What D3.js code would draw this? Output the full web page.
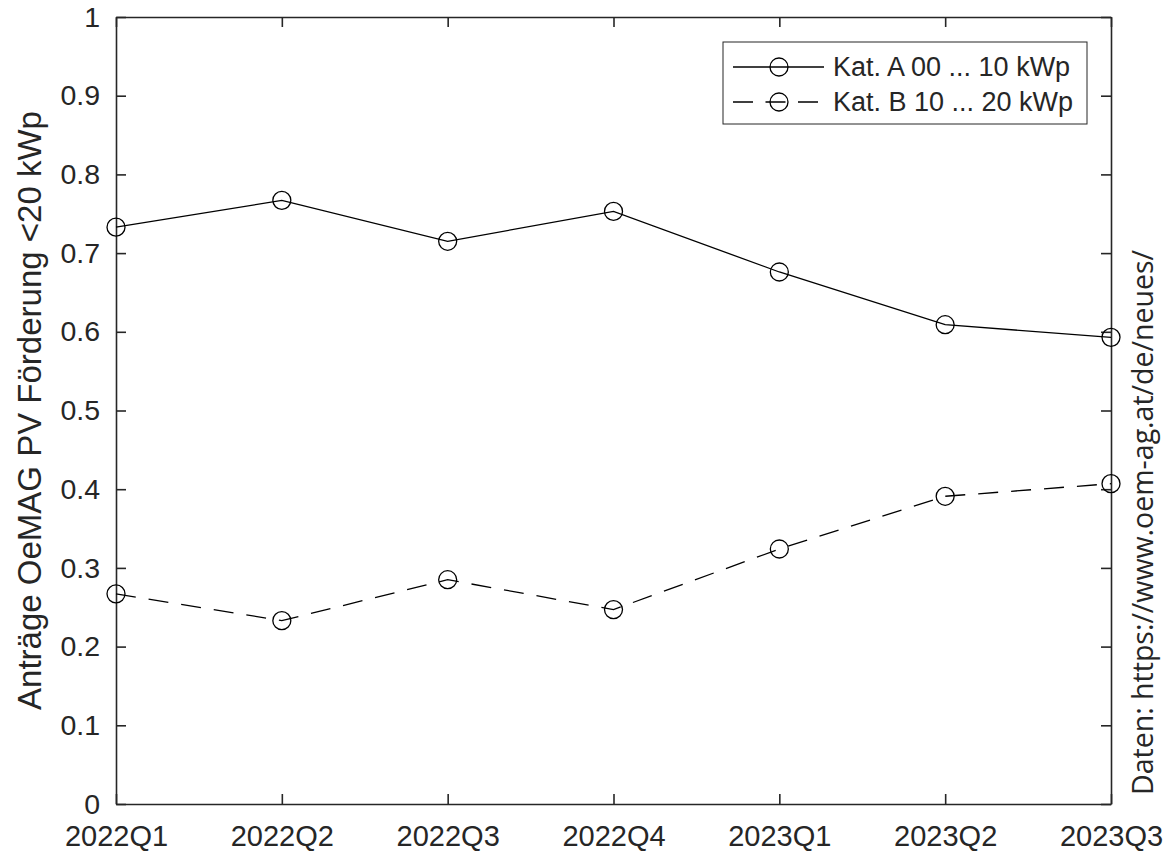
<!DOCTYPE html>
<html>
<head>
<meta charset="utf-8">
<script src="https://cdn.jsdelivr.net/npm/d3@7"></script>
<style>
  body { margin: 0; background: #fff; }
  text { font-family: "Liberation Sans", Arial, sans-serif; fill: #262626; }
</style>
</head>
<body>
<div id="chart"></div>
<script>
    const quarters = ['2022Q1', '2022Q2', '2022Q3', '2022Q4', '2023Q1', '2023Q2', '2023Q3'];
    const katA = [0.733, 0.767, 0.715, 0.753, 0.676, 0.609, 0.593];
    const katB = [0.267, 0.233, 0.285, 0.247, 0.324, 0.391, 0.407];
    const seriesNames = ['Kat. A 00 ... 10 kWp', 'Kat. B 10 ... 20 kWp'];
    const yTicks = [0, 0.1, 0.2, 0.3, 0.4, 0.5, 0.6, 0.7, 0.8, 0.9, 1];

    const width = 1168, height = 852;
    const plotL = 116, plotR = 1111, plotT = 17, plotB = 804;
    const axisColor = '#262626';

    const x = d3.scalePoint().domain(quarters).range([plotL, plotR]);
    const y = d3.scaleLinear().domain([0, 1]).range([plotB, plotT]);

    const svg = d3.select('#chart').append('svg')
      .attr('width', width)
      .attr('height', height);

    // axes, ticks pointing inward (also mirrored on top/right)
    const tickLen = 10;
    const yFmt = d => d === 0 || d === 1 ? String(d) : d3.format('.1f')(d);

    svg.append('g')
      .attr('transform', `translate(0,${plotB})`)
      .call(d3.axisBottom(x).tickSizeInner(-tickLen).tickSizeOuter(0).tickPadding(21))
      .call(g => g.selectAll('text').style('font-size', '29px').attr('fill', axisColor));

    svg.append('g')
      .attr('transform', `translate(0,${plotT})`)
      .call(d3.axisTop(x).tickSizeInner(-tickLen).tickSizeOuter(0).tickFormat(''));

    svg.append('g')
      .attr('transform', `translate(${plotL},0)`)
      .call(d3.axisLeft(y).tickValues(yTicks).tickFormat(yFmt).tickSizeInner(-tickLen).tickSizeOuter(0).tickPadding(16))
      .call(g => g.selectAll('text').style('font-size', '28.5px').attr('fill', axisColor));

    svg.append('g')
      .attr('transform', `translate(${plotR},0)`)
      .call(d3.axisRight(y).tickValues(yTicks).tickSizeInner(-tickLen).tickSizeOuter(0).tickFormat(''));

    svg.selectAll('.domain').attr('stroke', axisColor).attr('stroke-width', 1.6);
    svg.selectAll('.tick line').attr('stroke', axisColor).attr('stroke-width', 1.6);

    // lines
    const line = d3.line()
      .x((d, i) => x(quarters[i]))
      .y(d => y(d));

    const series = [
      { values: katA, dash: null },
      { values: katB, dash: '20,13' }
    ];

    series.forEach(s => {
      svg.append('path')
        .datum(s.values)
        .attr('d', line)
        .attr('fill', 'none')
        .attr('stroke', '#000')
        .attr('stroke-width', 1.3)
        .attr('stroke-dasharray', s.dash);

      svg.selectAll(null)
        .data(s.values)
        .enter().append('circle')
        .attr('cx', (d, i) => x(quarters[i]))
        .attr('cy', d => y(d))
        .attr('r', 9)
        .attr('fill', 'none')
        .attr('stroke', '#000')
        .attr('stroke-width', 1.3);
    });

    // legend
    const lg = svg.append('g').attr('transform', 'translate(723,42)');
    lg.append('rect')
      .attr('width', 364).attr('height', 82)
      .attr('fill', '#fff').attr('stroke', axisColor).attr('stroke-width', 1);

    seriesNames.forEach((name, i) => {
      const cy = 25 + i * 35;
      lg.append('line')
        .attr('x1', 10).attr('x2', 101).attr('y1', cy).attr('y2', cy)
        .attr('stroke', '#000').attr('stroke-width', 1.3)
        .attr('stroke-dasharray', series[i].dash ? '20,12.5' : null);
      lg.append('circle')
        .attr('cx', 56).attr('cy', cy).attr('r', 9)
        .attr('fill', 'none').attr('stroke', '#000').attr('stroke-width', 1.3);
      lg.append('text')
        .attr('x', 110).attr('y', cy).attr('dy', '0.35em')
        .style('font-size', '27px')
        .attr('fill', '#000')
        .text(name);
    });

    // y label
    svg.append('text')
      .attr('transform', `translate(41,${(plotT + plotB) / 2}) rotate(-90)`)
      .attr('text-anchor', 'middle')
      .style('font-size', '33px')
      .text('Anträge OeMAG PV Förderung <20 kWp');

    // source note
    svg.append('text')
      .attr('transform', 'translate(1153,795) rotate(-90)')
      .attr('text-anchor', 'start')
      .attr('textLength', 545)
      .attr('lengthAdjust', 'spacingAndGlyphs')
      .style('font-family', '"Open Sans", sans-serif')
      .style('font-size', '30px')
      .attr('fill', '#000')
      .text('Daten: https://www.oem-ag.at/de/neues/');
</script>
</body>
</html>
